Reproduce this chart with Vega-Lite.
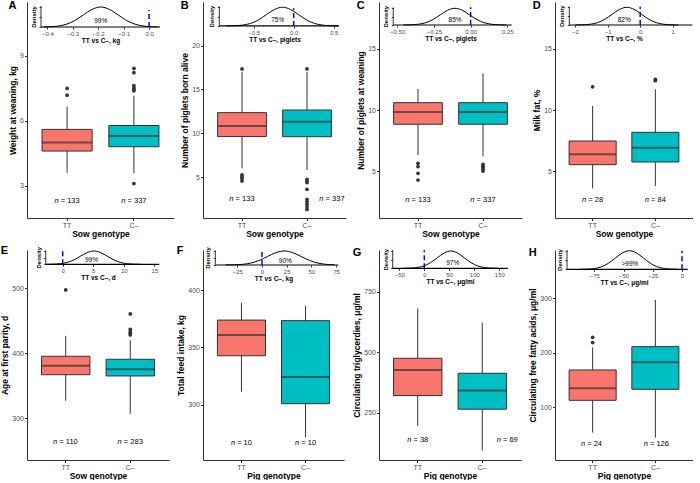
{
"$schema":"https://vega.github.io/schema/vega-lite/v6.json",
"padding":{"left":0,"top":0,"right":0,"bottom":0},
"autosize":{"type":"pad"},
"columns":4,
"align":"all",
"bounds":"flush",
"spacing":{"row":32,"column":29},
"resolve":{"scale":{"x":"independent","y":"independent"}},
"datasets":{
"box":[
{"p":"A","g":"TT","lo":3.6,"q1":4.6,"med":5.0,"q3":5.6,"hi":6.65,"nt":"= 133","ny":2.29},
{"p":"A","g":"C–","lo":3.57,"q1":4.8,"med":5.3,"q3":5.78,"hi":7.15,"nt":"= 337","ny":2.29},
{"p":"B","g":"TT","lo":6.0,"q1":9.62,"med":10.83,"q3":12.35,"hi":17.0,"nt":"= 133","ny":2.49},
{"p":"B","g":"C–","lo":5.8,"q1":9.6,"med":11.32,"q3":12.65,"hi":17.0,"nt":"= 337","ny":2.49},
{"p":"C","g":"TT","lo":6.3,"q1":8.83,"med":9.84,"q3":10.6,"hi":11.72,"nt":"= 133","ny":2.62},
{"p":"C","g":"C–","lo":6.2,"q1":8.83,"med":9.84,"q3":10.6,"hi":13.0,"nt":"= 337","ny":2.62},
{"p":"D","g":"TT","lo":3.58,"q1":5.52,"med":6.37,"q3":7.46,"hi":10.33,"nt":"= 28","ny":2.62},
{"p":"D","g":"C–","lo":3.77,"q1":5.74,"med":6.91,"q3":8.17,"hi":11.7,"nt":"= 84","ny":2.62},
{"p":"E","g":"TT","lo":327,"q1":367,"med":381,"q3":395.4,"hi":426.7,"nt":"= 110","ny":264},
{"p":"E","g":"C–","lo":307,"q1":365.1,"med":375.4,"q3":390.8,"hi":420,"nt":"= 283","ny":264},
{"p":"F","g":"TT","lo":311.3,"q1":342.7,"med":360.8,"q3":373.8,"hi":389,"nt":"= 10","ny":266.3},
{"p":"F","g":"C–","lo":271.5,"q1":300.9,"med":324.1,"q3":373.3,"hi":386.3,"nt":"= 10","ny":266.3},
{"p":"G","g":"TT","lo":195.4,"q1":320.7,"med":426.6,"q3":474.8,"hi":681,"nt":"= 38","ny":137.6},
{"p":"G","g":"C–","lo":93.6,"q1":264.3,"med":341.3,"q3":412.9,"hi":622,"nt":"= 69","ny":137.6},
{"p":"H","g":"TT","lo":53.5,"q1":112.8,"med":135,"q3":168.5,"hi":210,"nt":"= 24","ny":32.7},
{"p":"H","g":"C–","lo":44.3,"q1":133,"med":182.6,"q3":211.3,"hi":297,"nt":"= 126","ny":32.7}
],
"out":[
{"p":"A","g":"TT","v":7.18},{"p":"A","g":"TT","v":7.49},
{"p":"A","g":"C–","v":8.42},{"p":"A","g":"C–","v":8.22},{"p":"A","g":"C–","v":7.62},{"p":"A","g":"C–","v":7.52},{"p":"A","g":"C–","v":7.45},{"p":"A","g":"C–","v":7.38},{"p":"A","g":"C–","v":3.1},
{"p":"B","g":"TT","v":17.34},{"p":"B","g":"TT","v":5.23},{"p":"B","g":"TT","v":5.04},{"p":"B","g":"TT","v":4.85},{"p":"B","g":"TT","v":4.55},
{"p":"B","g":"C–","v":17.34},{"p":"B","g":"C–","v":4.74},{"p":"B","g":"C–","v":4.55},{"p":"B","g":"C–","v":4.36},{"p":"B","g":"C–","v":3.6},{"p":"B","g":"C–","v":2.45},{"p":"B","g":"C–","v":2.2},{"p":"B","g":"C–","v":1.9},{"p":"B","g":"C–","v":1.6},{"p":"B","g":"C–","v":1.3},
{"p":"C","g":"TT","v":5.63},{"p":"C","g":"TT","v":5.36},{"p":"C","g":"TT","v":4.81},{"p":"C","g":"TT","v":4.26},
{"p":"C","g":"C–","v":5.55},{"p":"C","g":"C–","v":5.4},{"p":"C","g":"C–","v":5.3},{"p":"C","g":"C–","v":5.15},{"p":"C","g":"C–","v":5.0},
{"p":"D","g":"TT","v":11.9},{"p":"D","g":"C–","v":12.5},{"p":"D","g":"C–","v":12.4},
{"p":"E","g":"TT","v":497.4},{"p":"E","g":"C–","v":460.5},{"p":"E","g":"C–","v":436.9},{"p":"E","g":"C–","v":433.3},{"p":"E","g":"C–","v":430.8},{"p":"E","g":"C–","v":428.2},
{"p":"H","g":"TT","v":228.4},{"p":"H","g":"TT","v":218.7}
],
"ins":[
{"p":"A","lo":-0.425,"hi":0.043,"lx":-0.19,"pct":"99%","vt":0.85,"z":0,"zx":0,"at":1.05,"py":0.3,"dl":0.5},
{"p":"B","lo":-0.93,"hi":0.566,"lx":-0.2,"pct":"75%","vt":0.95,"z":0,"zx":0,"at":1.05,"py":0.3,"dl":0.5},
{"p":"C","lo":-0.527,"hi":0.28,"lx":-0.106,"pct":"85%","vt":1.06,"z":0,"zx":0,"at":1.05,"py":0.3,"dl":0.5},
{"p":"D","lo":-2.175,"hi":1.6,"lx":-0.49,"pct":"82%","vt":1.03,"z":0,"zx":0,"at":1.05,"py":0.3,"dl":0.5},
{"p":"E","lo":-2.78,"hi":15.8,"lx":4.7,"pct":"99%","vt":1.07,"z":0,"zx":0,"at":1.05,"py":0.3,"dl":0.5},
{"p":"F","lo":-47.3,"hi":77.3,"lx":23.6,"pct":"90%","vt":1.07,"z":0,"zx":0,"at":1.05,"py":0.3,"dl":0.5},
{"p":"G","lo":-63.2,"hi":166.8,"lx":56.7,"pct":"97%","vt":1.05,"z":0,"zx":0,"at":1.05,"py":0.3,"dl":0.5},
{"p":"H","lo":-98.4,"hi":4.9,"lx":-44.5,"pct":">99%","vt":1.0,"z":0,"zx":0,"at":1.05,"py":0.3,"dl":0.5}
],
"dens":[
{"p":"A","x":-0.415,"d":0.002},{"p":"A","x":-0.394,"d":0.011},{"p":"A","x":-0.36,"d":0.044},{"p":"A","x":-0.326,"d":0.135},{"p":"A","x":-0.292,"d":0.325},{"p":"A","x":-0.258,"d":0.607},{"p":"A","x":-0.224,"d":0.882},{"p":"A","x":-0.19,"d":1},{"p":"A","x":-0.156,"d":0.882},{"p":"A","x":-0.122,"d":0.607},{"p":"A","x":-0.088,"d":0.325},{"p":"A","x":-0.054,"d":0.135},{"p":"A","x":-0.02,"d":0.044},{"p":"A","x":0.014,"d":0.011},{"p":"A","x":0.035,"d":0.002},
{"p":"B","x":-0.84,"d":0.002},{"p":"B","x":-0.74,"d":0.011},{"p":"B","x":-0.64,"d":0.044},{"p":"B","x":-0.54,"d":0.135},{"p":"B","x":-0.44,"d":0.325},{"p":"B","x":-0.34,"d":0.607},{"p":"B","x":-0.24,"d":0.882},{"p":"B","x":-0.14,"d":1},{"p":"B","x":-0.04,"d":0.882},{"p":"B","x":0.06,"d":0.607},{"p":"B","x":0.16,"d":0.325},{"p":"B","x":0.26,"d":0.135},{"p":"B","x":0.36,"d":0.044},{"p":"B","x":0.46,"d":0.011},{"p":"B","x":0.56,"d":0.002},
{"p":"C","x":-0.457,"d":0.002},{"p":"C","x":-0.407,"d":0.011},{"p":"C","x":-0.357,"d":0.044},{"p":"C","x":-0.307,"d":0.135},{"p":"C","x":-0.257,"d":0.325},{"p":"C","x":-0.207,"d":0.607},{"p":"C","x":-0.157,"d":0.882},{"p":"C","x":-0.107,"d":1},{"p":"C","x":-0.057,"d":0.882},{"p":"C","x":-0.007,"d":0.607},{"p":"C","x":0.043,"d":0.325},{"p":"C","x":0.093,"d":0.135},{"p":"C","x":0.143,"d":0.044},{"p":"C","x":0.193,"d":0.011},{"p":"C","x":0.243,"d":0.002},
{"p":"D","x":-1.985,"d":0.002},{"p":"D","x":-1.76,"d":0.011},{"p":"D","x":-1.535,"d":0.044},{"p":"D","x":-1.31,"d":0.135},{"p":"D","x":-1.085,"d":0.325},{"p":"D","x":-0.86,"d":0.607},{"p":"D","x":-0.635,"d":0.882},{"p":"D","x":-0.41,"d":1},{"p":"D","x":-0.185,"d":0.882},{"p":"D","x":0.04,"d":0.607},{"p":"D","x":0.265,"d":0.325},{"p":"D","x":0.49,"d":0.135},{"p":"D","x":0.715,"d":0.044},{"p":"D","x":0.94,"d":0.011},{"p":"D","x":1.165,"d":0.002},
{"p":"E","x":-2.6,"d":0.002},{"p":"E","x":-1.5,"d":0.011},{"p":"E","x":-0.4,"d":0.044},{"p":"E","x":0.7,"d":0.135},{"p":"E","x":1.8,"d":0.325},{"p":"E","x":2.9,"d":0.607},{"p":"E","x":4.0,"d":0.882},{"p":"E","x":5.1,"d":1},{"p":"E","x":6.2,"d":0.882},{"p":"E","x":7.3,"d":0.607},{"p":"E","x":8.4,"d":0.325},{"p":"E","x":9.5,"d":0.135},{"p":"E","x":10.6,"d":0.044},{"p":"E","x":11.7,"d":0.011},{"p":"E","x":12.8,"d":0.002},
{"p":"F","x":-36.9,"d":0.002},{"p":"F","x":-28.4,"d":0.011},{"p":"F","x":-19.9,"d":0.044},{"p":"F","x":-11.4,"d":0.135},{"p":"F","x":-2.9,"d":0.325},{"p":"F","x":5.6,"d":0.607},{"p":"F","x":14.1,"d":0.882},{"p":"F","x":22.6,"d":1},{"p":"F","x":31.1,"d":0.882},{"p":"F","x":39.6,"d":0.607},{"p":"F","x":48.1,"d":0.325},{"p":"F","x":56.6,"d":0.135},{"p":"F","x":65.1,"d":0.044},{"p":"F","x":73.6,"d":0.011},
{"p":"G","x":-41.5,"d":0.002},{"p":"G","x":-28,"d":0.011},{"p":"G","x":-14.5,"d":0.044},{"p":"G","x":-1,"d":0.135},{"p":"G","x":12.5,"d":0.325},{"p":"G","x":26,"d":0.607},{"p":"G","x":39.5,"d":0.882},{"p":"G","x":53,"d":1},{"p":"G","x":66.5,"d":0.882},{"p":"G","x":80,"d":0.607},{"p":"G","x":93.5,"d":0.325},{"p":"G","x":107,"d":0.135},{"p":"G","x":120.5,"d":0.044},{"p":"G","x":134,"d":0.011},{"p":"G","x":147.5,"d":0.002},
{"p":"H","x":-87,"d":0.002},{"p":"H","x":-81,"d":0.011},{"p":"H","x":-75,"d":0.044},{"p":"H","x":-69,"d":0.135},{"p":"H","x":-63,"d":0.325},{"p":"H","x":-57,"d":0.607},{"p":"H","x":-51,"d":0.882},{"p":"H","x":-45,"d":1},{"p":"H","x":-39,"d":0.882},{"p":"H","x":-33,"d":0.607},{"p":"H","x":-27,"d":0.325},{"p":"H","x":-21,"d":0.135},{"p":"H","x":-15,"d":0.044},{"p":"H","x":-9,"d":0.011},{"p":"H","x":-3,"d":0.002}
]
},
"concat":[
{"width":147,"height":216,"title":{"text":"A"},"resolve":{"scale":{"x":"independent","y":"independent"}},
"layer":[
{"data":{"name":"box"},"transform":[{"filter":"datum.p=='A'"}],"mark":{"type":"rule","color":"#333333","strokeWidth":1},"encoding":{"x":{"field":"g","type":"nominal","scale":{"type":"band","domain":["TT","C–"],"paddingInner":0.25,"paddingOuter":0.225},"axis":{"title":"Sow genotype","orient":"bottom"}},"y":{"field":"lo","type":"quantitative","scale":{"domain":[1.51,11.48],"nice":false,"zero":false},"axis":{"title":"Weight at weaning, kg","values":[3,6,9],"orient":"left"}},"y2":{"field":"hi"}}},
{"data":{"name":"box"},"transform":[{"filter":"datum.p=='A'"}],"mark":{"type":"bar","stroke":"#333333","strokeWidth":1},"encoding":{"x":{"field":"g","type":"nominal","scale":{"type":"band","domain":["TT","C–"],"paddingInner":0.25,"paddingOuter":0.225},"axis":null},"y":{"field":"q1","type":"quantitative","scale":{"domain":[1.51,11.48],"nice":false,"zero":false},"axis":null},"y2":{"field":"q3"},"color":{"field":"g","type":"nominal","scale":{"domain":["TT","C–"],"range":["#F8766D","#00BFC4"]},"legend":null}}},
{"data":{"name":"box"},"transform":[{"filter":"datum.p=='A'"}],"mark":{"type":"tick","color":"#333333","thickness":2},"encoding":{"x":{"field":"g","type":"nominal","scale":{"type":"band","domain":["TT","C–"],"paddingInner":0.25,"paddingOuter":0.225},"axis":null},"y":{"field":"med","type":"quantitative","scale":{"domain":[1.51,11.48],"nice":false,"zero":false},"axis":null}}},
{"data":{"name":"box"},"transform":[{"filter":"datum.p=='A'"}],"mark":{"type":"text","text":"n","fontStyle":"italic","align":"right","dx":-8.5,"fontSize":7.5},"encoding":{"x":{"field":"g","type":"nominal","scale":{"type":"band","domain":["TT","C–"],"paddingInner":0.25,"paddingOuter":0.225},"axis":null},"y":{"field":"ny","type":"quantitative","scale":{"domain":[1.51,11.48],"nice":false,"zero":false},"axis":null}}},
{"data":{"name":"box"},"transform":[{"filter":"datum.p=='A'"}],"mark":{"type":"text","align":"left","dx":-6.4,"fontSize":7.5},"encoding":{"x":{"field":"g","type":"nominal","scale":{"type":"band","domain":["TT","C–"],"paddingInner":0.25,"paddingOuter":0.225},"axis":null},"y":{"field":"ny","type":"quantitative","scale":{"domain":[1.51,11.48],"nice":false,"zero":false},"axis":null},"text":{"field":"nt","type":"nominal"}}},
{"data":{"name":"out"},"transform":[{"filter":"datum.p=='A'"}],"mark":{"type":"circle","size":14,"color":"#333333","opacity":1},"encoding":{"x":{"field":"g","type":"nominal","scale":{"type":"band","domain":["TT","C–"],"paddingInner":0.25,"paddingOuter":0.225},"axis":null},"y":{"field":"v","type":"quantitative","scale":{"domain":[1.51,11.48],"nice":false,"zero":false},"axis":null}}},
{"data":{"name":"dens"},"transform":[{"filter":"datum.p=='A'"}],"mark":{"type":"line","color":"#000000","strokeWidth":1,"interpolate":"monotone"},"encoding":{"x":{"field":"x","type":"quantitative","scale":{"domain":[-0.48,0.098],"nice":false,"zero":false},"axis":{"orient":"bottom","offset":-191,"values":[-0.4,-0.3,-0.2,-0.1,0],"format":".1f","title":"TT vs C–, kg","domain":false,"labelFontSize":6,"titleFontSize":6.5,"tickSize":2,"labelPadding":1,"titlePadding":1}},"y":{"field":"d","type":"quantitative","scale":{"domain":[-9.55,1.25],"nice":false,"zero":false},"axis":{"orient":"left","offset":-14,"values":[0,0.5,1],"labels":false,"domain":false,"title":null,"tickSize":2}}}},
{"data":{"name":"ins"},"transform":[{"filter":"datum.p=='A'"}],"mark":{"type":"rule","color":"#000000","strokeWidth":1.2},"encoding":{"x":{"field":"lo","type":"quantitative","scale":{"domain":[-0.48,0.098],"nice":false,"zero":false},"axis":null},"x2":{"field":"hi"},"y":{"field":"z","type":"quantitative","scale":{"domain":[-9.55,1.25],"nice":false,"zero":false},"axis":null}}},
{"data":{"name":"ins"},"transform":[{"filter":"datum.p=='A'"}],"mark":{"type":"rule","color":"#333333","strokeWidth":1},"encoding":{"x":{"field":"lo","type":"quantitative","scale":{"domain":[-0.48,0.098],"nice":false,"zero":false},"axis":null},"y":{"field":"z","type":"quantitative","scale":{"domain":[-9.55,1.25],"nice":false,"zero":false},"axis":null},"y2":{"field":"at"}}},
{"data":{"name":"ins"},"transform":[{"filter":"datum.p=='A'"}],"mark":{"type":"rule","color":"#0000FF","strokeWidth":1.5,"strokeDash":[5,3]},"encoding":{"x":{"field":"zx","type":"quantitative","scale":{"domain":[-0.48,0.098],"nice":false,"zero":false},"axis":null},"y":{"field":"z","type":"quantitative","scale":{"domain":[-9.55,1.25],"nice":false,"zero":false},"axis":null},"y2":{"field":"vt"}}},
{"data":{"name":"ins"},"transform":[{"filter":"datum.p=='A'"}],"mark":{"type":"text","fontSize":6.5,"baseline":"middle"},"encoding":{"x":{"field":"lx","type":"quantitative","scale":{"domain":[-0.48,0.098],"nice":false,"zero":false},"axis":null},"y":{"field":"py","type":"quantitative","scale":{"domain":[-9.55,1.25],"nice":false,"zero":false},"axis":null},"text":{"field":"pct","type":"nominal"}}},
{"data":{"name":"ins"},"transform":[{"filter":"datum.p=='A'"}],"mark":{"type":"text","text":"Density","angle":270,"baseline":"bottom","dy":-4,"fontSize":6,"fontWeight":"bold"},"encoding":{"x":{"field":"lo","type":"quantitative","scale":{"domain":[-0.48,0.098],"nice":false,"zero":false},"axis":null},"y":{"field":"dl","type":"quantitative","scale":{"domain":[-9.55,1.25],"nice":false,"zero":false},"axis":null}}}
]},
{"width":143,"height":216,"title":{"text":"B"},"resolve":{"scale":{"x":"independent","y":"independent"}},
"layer":[
{"data":{"name":"box"},"transform":[{"filter":"datum.p=='B'"}],"mark":{"type":"rule","color":"#333333","strokeWidth":1},"encoding":{"x":{"field":"g","type":"nominal","scale":{"type":"band","domain":["TT","C–"],"paddingInner":0.25,"paddingOuter":0.225},"axis":{"title":"Sow genotype","orient":"bottom"}},"y":{"field":"lo","type":"quantitative","scale":{"domain":[0.32,24.98],"nice":false,"zero":false},"axis":{"title":"Number of piglets born alive","values":[5,10,15,20],"orient":"left"}},"y2":{"field":"hi"}}},
{"data":{"name":"box"},"transform":[{"filter":"datum.p=='B'"}],"mark":{"type":"bar","stroke":"#333333","strokeWidth":1},"encoding":{"x":{"field":"g","type":"nominal","scale":{"type":"band","domain":["TT","C–"],"paddingInner":0.25,"paddingOuter":0.225},"axis":null},"y":{"field":"q1","type":"quantitative","scale":{"domain":[0.32,24.98],"nice":false,"zero":false},"axis":null},"y2":{"field":"q3"},"color":{"field":"g","type":"nominal","scale":{"domain":["TT","C–"],"range":["#F8766D","#00BFC4"]},"legend":null}}},
{"data":{"name":"box"},"transform":[{"filter":"datum.p=='B'"}],"mark":{"type":"tick","color":"#333333","thickness":2},"encoding":{"x":{"field":"g","type":"nominal","scale":{"type":"band","domain":["TT","C–"],"paddingInner":0.25,"paddingOuter":0.225},"axis":null},"y":{"field":"med","type":"quantitative","scale":{"domain":[0.32,24.98],"nice":false,"zero":false},"axis":null}}},
{"data":{"name":"box"},"transform":[{"filter":"datum.p=='B' && datum.g=='TT'"}],"mark":{"type":"text","text":"n","fontStyle":"italic","align":"right","dx":-8.5,"fontSize":7.5},"encoding":{"x":{"field":"g","type":"nominal","scale":{"type":"band","domain":["TT","C–"],"paddingInner":0.25,"paddingOuter":0.225},"axis":null},"y":{"field":"ny","type":"quantitative","scale":{"domain":[0.32,24.98],"nice":false,"zero":false},"axis":null}}},
{"data":{"name":"box"},"transform":[{"filter":"datum.p=='B' && datum.g=='TT'"}],"mark":{"type":"text","align":"left","dx":-6.4,"fontSize":7.5},"encoding":{"x":{"field":"g","type":"nominal","scale":{"type":"band","domain":["TT","C–"],"paddingInner":0.25,"paddingOuter":0.225},"axis":null},"y":{"field":"ny","type":"quantitative","scale":{"domain":[0.32,24.98],"nice":false,"zero":false},"axis":null},"text":{"field":"nt","type":"nominal"}}},
{"data":{"name":"box"},"transform":[{"filter":"datum.p=='B' && datum.g!='TT'"}],"mark":{"type":"text","text":"n","fontStyle":"italic","align":"right","dx":16.5,"fontSize":7.5},"encoding":{"x":{"field":"g","type":"nominal","scale":{"type":"band","domain":["TT","C–"],"paddingInner":0.25,"paddingOuter":0.225},"axis":null},"y":{"field":"ny","type":"quantitative","scale":{"domain":[0.32,24.98],"nice":false,"zero":false},"axis":null}}},
{"data":{"name":"box"},"transform":[{"filter":"datum.p=='B' && datum.g!='TT'"}],"mark":{"type":"text","align":"left","dx":18.6,"fontSize":7.5},"encoding":{"x":{"field":"g","type":"nominal","scale":{"type":"band","domain":["TT","C–"],"paddingInner":0.25,"paddingOuter":0.225},"axis":null},"y":{"field":"ny","type":"quantitative","scale":{"domain":[0.32,24.98],"nice":false,"zero":false},"axis":null},"text":{"field":"nt","type":"nominal"}}},
{"data":{"name":"out"},"transform":[{"filter":"datum.p=='B'"}],"mark":{"type":"circle","size":14,"color":"#333333","opacity":1},"encoding":{"x":{"field":"g","type":"nominal","scale":{"type":"band","domain":["TT","C–"],"paddingInner":0.25,"paddingOuter":0.225},"axis":null},"y":{"field":"v","type":"quantitative","scale":{"domain":[0.32,24.98],"nice":false,"zero":false},"axis":null}}},
{"data":{"name":"dens"},"transform":[{"filter":"datum.p=='B'"}],"mark":{"type":"line","color":"#000000","strokeWidth":1,"interpolate":"monotone"},"encoding":{"x":{"field":"x","type":"quantitative","scale":{"domain":[-1.134,0.654],"nice":false,"zero":false},"axis":{"orient":"bottom","offset":-192,"values":[-0.5,0,0.5],"format":".1f","title":"TT vs C–, piglets","domain":false,"labelFontSize":6,"titleFontSize":6.5,"tickSize":2,"labelPadding":1,"titlePadding":1}},"y":{"field":"d","type":"quantitative","scale":{"domain":[-10.27,1.28],"nice":false,"zero":false},"axis":{"orient":"left","offset":-16.3,"values":[0,0.5,1],"labels":false,"domain":false,"title":null,"tickSize":2}}}},
{"data":{"name":"ins"},"transform":[{"filter":"datum.p=='B'"}],"mark":{"type":"rule","color":"#000000","strokeWidth":1.2},"encoding":{"x":{"field":"lo","type":"quantitative","scale":{"domain":[-1.134,0.654],"nice":false,"zero":false},"axis":null},"x2":{"field":"hi"},"y":{"field":"z","type":"quantitative","scale":{"domain":[-10.27,1.28],"nice":false,"zero":false},"axis":null}}},
{"data":{"name":"ins"},"transform":[{"filter":"datum.p=='B'"}],"mark":{"type":"rule","color":"#333333","strokeWidth":1},"encoding":{"x":{"field":"lo","type":"quantitative","scale":{"domain":[-1.134,0.654],"nice":false,"zero":false},"axis":null},"y":{"field":"z","type":"quantitative","scale":{"domain":[-10.27,1.28],"nice":false,"zero":false},"axis":null},"y2":{"field":"at"}}},
{"data":{"name":"ins"},"transform":[{"filter":"datum.p=='B'"}],"mark":{"type":"rule","color":"#0000FF","strokeWidth":1.5,"strokeDash":[5,3]},"encoding":{"x":{"field":"zx","type":"quantitative","scale":{"domain":[-1.134,0.654],"nice":false,"zero":false},"axis":null},"y":{"field":"z","type":"quantitative","scale":{"domain":[-10.27,1.28],"nice":false,"zero":false},"axis":null},"y2":{"field":"vt"}}},
{"data":{"name":"ins"},"transform":[{"filter":"datum.p=='B'"}],"mark":{"type":"text","fontSize":6.5,"baseline":"middle"},"encoding":{"x":{"field":"lx","type":"quantitative","scale":{"domain":[-1.134,0.654],"nice":false,"zero":false},"axis":null},"y":{"field":"py","type":"quantitative","scale":{"domain":[-10.27,1.28],"nice":false,"zero":false},"axis":null},"text":{"field":"pct","type":"nominal"}}},
{"data":{"name":"ins"},"transform":[{"filter":"datum.p=='B'"}],"mark":{"type":"text","text":"Density","angle":270,"baseline":"bottom","dy":-4,"fontSize":6,"fontWeight":"bold"},"encoding":{"x":{"field":"lo","type":"quantitative","scale":{"domain":[-1.134,0.654],"nice":false,"zero":false},"axis":null},"y":{"field":"dl","type":"quantitative","scale":{"domain":[-10.27,1.28],"nice":false,"zero":false},"axis":null}}}
]},
{"width":143,"height":216,"title":{"text":"C"},"resolve":{"scale":{"x":"independent","y":"independent"}},
"layer":[
{"data":{"name":"box"},"transform":[{"filter":"datum.p=='C'"}],"mark":{"type":"rule","color":"#333333","strokeWidth":1},"encoding":{"x":{"field":"g","type":"nominal","scale":{"type":"band","domain":["TT","C–"],"paddingInner":0.25,"paddingOuter":0.225},"axis":{"title":"Sow genotype","orient":"bottom"}},"y":{"field":"lo","type":"quantitative","scale":{"domain":[1.15,18.85],"nice":false,"zero":false},"axis":{"title":"Number of piglets at weaning","values":[5,10,15],"orient":"left"}},"y2":{"field":"hi"}}},
{"data":{"name":"box"},"transform":[{"filter":"datum.p=='C'"}],"mark":{"type":"bar","stroke":"#333333","strokeWidth":1},"encoding":{"x":{"field":"g","type":"nominal","scale":{"type":"band","domain":["TT","C–"],"paddingInner":0.25,"paddingOuter":0.225},"axis":null},"y":{"field":"q1","type":"quantitative","scale":{"domain":[1.15,18.85],"nice":false,"zero":false},"axis":null},"y2":{"field":"q3"},"color":{"field":"g","type":"nominal","scale":{"domain":["TT","C–"],"range":["#F8766D","#00BFC4"]},"legend":null}}},
{"data":{"name":"box"},"transform":[{"filter":"datum.p=='C'"}],"mark":{"type":"tick","color":"#333333","thickness":2},"encoding":{"x":{"field":"g","type":"nominal","scale":{"type":"band","domain":["TT","C–"],"paddingInner":0.25,"paddingOuter":0.225},"axis":null},"y":{"field":"med","type":"quantitative","scale":{"domain":[1.15,18.85],"nice":false,"zero":false},"axis":null}}},
{"data":{"name":"box"},"transform":[{"filter":"datum.p=='C'"}],"mark":{"type":"text","text":"n","fontStyle":"italic","align":"right","dx":-8.5,"fontSize":7.5},"encoding":{"x":{"field":"g","type":"nominal","scale":{"type":"band","domain":["TT","C–"],"paddingInner":0.25,"paddingOuter":0.225},"axis":null},"y":{"field":"ny","type":"quantitative","scale":{"domain":[1.15,18.85],"nice":false,"zero":false},"axis":null}}},
{"data":{"name":"box"},"transform":[{"filter":"datum.p=='C'"}],"mark":{"type":"text","align":"left","dx":-6.4,"fontSize":7.5},"encoding":{"x":{"field":"g","type":"nominal","scale":{"type":"band","domain":["TT","C–"],"paddingInner":0.25,"paddingOuter":0.225},"axis":null},"y":{"field":"ny","type":"quantitative","scale":{"domain":[1.15,18.85],"nice":false,"zero":false},"axis":null},"text":{"field":"nt","type":"nominal"}}},
{"data":{"name":"out"},"transform":[{"filter":"datum.p=='C'"}],"mark":{"type":"circle","size":14,"color":"#333333","opacity":1},"encoding":{"x":{"field":"g","type":"nominal","scale":{"type":"band","domain":["TT","C–"],"paddingInner":0.25,"paddingOuter":0.225},"axis":null},"y":{"field":"v","type":"quantitative","scale":{"domain":[1.15,18.85],"nice":false,"zero":false},"axis":null}}},
{"data":{"name":"dens"},"transform":[{"filter":"datum.p=='C'"}],"mark":{"type":"line","color":"#000000","strokeWidth":1,"interpolate":"monotone"},"encoding":{"x":{"field":"x","type":"quantitative","scale":{"domain":[-0.624,0.35],"nice":false,"zero":false},"axis":{"orient":"bottom","offset":-193,"values":[-0.5,-0.25,0,0.25],"format":".2f","title":"TT vs C–, piglets","domain":false,"labelFontSize":6,"titleFontSize":6.5,"tickSize":2,"labelPadding":1,"titlePadding":1}},"y":{"field":"d","type":"quantitative","scale":{"domain":[-11.56,1.377],"nice":false,"zero":false},"axis":{"orient":"left","offset":-14.3,"values":[0,0.5,1],"labels":false,"domain":false,"title":null,"tickSize":2}}}},
{"data":{"name":"ins"},"transform":[{"filter":"datum.p=='C'"}],"mark":{"type":"rule","color":"#000000","strokeWidth":1.2},"encoding":{"x":{"field":"lo","type":"quantitative","scale":{"domain":[-0.624,0.35],"nice":false,"zero":false},"axis":null},"x2":{"field":"hi"},"y":{"field":"z","type":"quantitative","scale":{"domain":[-11.56,1.377],"nice":false,"zero":false},"axis":null}}},
{"data":{"name":"ins"},"transform":[{"filter":"datum.p=='C'"}],"mark":{"type":"rule","color":"#333333","strokeWidth":1},"encoding":{"x":{"field":"lo","type":"quantitative","scale":{"domain":[-0.624,0.35],"nice":false,"zero":false},"axis":null},"y":{"field":"z","type":"quantitative","scale":{"domain":[-11.56,1.377],"nice":false,"zero":false},"axis":null},"y2":{"field":"at"}}},
{"data":{"name":"ins"},"transform":[{"filter":"datum.p=='C'"}],"mark":{"type":"rule","color":"#0000FF","strokeWidth":1.5,"strokeDash":[5,3]},"encoding":{"x":{"field":"zx","type":"quantitative","scale":{"domain":[-0.624,0.35],"nice":false,"zero":false},"axis":null},"y":{"field":"z","type":"quantitative","scale":{"domain":[-11.56,1.377],"nice":false,"zero":false},"axis":null},"y2":{"field":"vt"}}},
{"data":{"name":"ins"},"transform":[{"filter":"datum.p=='C'"}],"mark":{"type":"text","fontSize":6.5,"baseline":"middle"},"encoding":{"x":{"field":"lx","type":"quantitative","scale":{"domain":[-0.624,0.35],"nice":false,"zero":false},"axis":null},"y":{"field":"py","type":"quantitative","scale":{"domain":[-11.56,1.377],"nice":false,"zero":false},"axis":null},"text":{"field":"pct","type":"nominal"}}},
{"data":{"name":"ins"},"transform":[{"filter":"datum.p=='C'"}],"mark":{"type":"text","text":"Density","angle":270,"baseline":"bottom","dy":-4,"fontSize":6,"fontWeight":"bold"},"encoding":{"x":{"field":"lo","type":"quantitative","scale":{"domain":[-0.624,0.35],"nice":false,"zero":false},"axis":null},"y":{"field":"dl","type":"quantitative","scale":{"domain":[-11.56,1.377],"nice":false,"zero":false},"axis":null}}}
]},
{"width":138,"height":216,"title":{"text":"D"},"resolve":{"scale":{"x":"independent","y":"independent"}},
"layer":[
{"data":{"name":"box"},"transform":[{"filter":"datum.p=='D'"}],"mark":{"type":"rule","color":"#333333","strokeWidth":1},"encoding":{"x":{"field":"g","type":"nominal","scale":{"type":"band","domain":["TT","C–"],"paddingInner":0.25,"paddingOuter":0.225},"axis":{"title":"Sow genotype","orient":"bottom"}},"y":{"field":"lo","type":"quantitative","scale":{"domain":[1.15,18.85],"nice":false,"zero":false},"axis":{"title":"Milk fat, %","values":[5,10,15],"orient":"left"}},"y2":{"field":"hi"}}},
{"data":{"name":"box"},"transform":[{"filter":"datum.p=='D'"}],"mark":{"type":"bar","stroke":"#333333","strokeWidth":1},"encoding":{"x":{"field":"g","type":"nominal","scale":{"type":"band","domain":["TT","C–"],"paddingInner":0.25,"paddingOuter":0.225},"axis":null},"y":{"field":"q1","type":"quantitative","scale":{"domain":[1.15,18.85],"nice":false,"zero":false},"axis":null},"y2":{"field":"q3"},"color":{"field":"g","type":"nominal","scale":{"domain":["TT","C–"],"range":["#F8766D","#00BFC4"]},"legend":null}}},
{"data":{"name":"box"},"transform":[{"filter":"datum.p=='D'"}],"mark":{"type":"tick","color":"#333333","thickness":2},"encoding":{"x":{"field":"g","type":"nominal","scale":{"type":"band","domain":["TT","C–"],"paddingInner":0.25,"paddingOuter":0.225},"axis":null},"y":{"field":"med","type":"quantitative","scale":{"domain":[1.15,18.85],"nice":false,"zero":false},"axis":null}}},
{"data":{"name":"box"},"transform":[{"filter":"datum.p=='D'"}],"mark":{"type":"text","text":"n","fontStyle":"italic","align":"right","dx":-6.4,"fontSize":7.5},"encoding":{"x":{"field":"g","type":"nominal","scale":{"type":"band","domain":["TT","C–"],"paddingInner":0.25,"paddingOuter":0.225},"axis":null},"y":{"field":"ny","type":"quantitative","scale":{"domain":[1.15,18.85],"nice":false,"zero":false},"axis":null}}},
{"data":{"name":"box"},"transform":[{"filter":"datum.p=='D'"}],"mark":{"type":"text","align":"left","dx":-4.3,"fontSize":7.5},"encoding":{"x":{"field":"g","type":"nominal","scale":{"type":"band","domain":["TT","C–"],"paddingInner":0.25,"paddingOuter":0.225},"axis":null},"y":{"field":"ny","type":"quantitative","scale":{"domain":[1.15,18.85],"nice":false,"zero":false},"axis":null},"text":{"field":"nt","type":"nominal"}}},
{"data":{"name":"out"},"transform":[{"filter":"datum.p=='D'"}],"mark":{"type":"circle","size":14,"color":"#333333","opacity":1},"encoding":{"x":{"field":"g","type":"nominal","scale":{"type":"band","domain":["TT","C–"],"paddingInner":0.25,"paddingOuter":0.225},"axis":null},"y":{"field":"v","type":"quantitative","scale":{"domain":[1.15,18.85],"nice":false,"zero":false},"axis":null}}},
{"data":{"name":"dens"},"transform":[{"filter":"datum.p=='D'"}],"mark":{"type":"line","color":"#000000","strokeWidth":1,"interpolate":"monotone"},"encoding":{"x":{"field":"x","type":"quantitative","scale":{"domain":[-2.614,1.62],"nice":false,"zero":false},"axis":{"orient":"bottom","offset":-193,"values":[-2,-1,0,1],"format":"d","title":"TT vs C–, %","domain":false,"labelFontSize":6,"titleFontSize":6.5,"tickSize":2,"labelPadding":1,"titlePadding":1}},"y":{"field":"d","type":"quantitative","scale":{"domain":[-10.9,1.3],"nice":false,"zero":false},"axis":{"orient":"left","offset":-14.3,"values":[0,0.5,1],"labels":false,"domain":false,"title":null,"tickSize":2}}}},
{"data":{"name":"ins"},"transform":[{"filter":"datum.p=='D'"}],"mark":{"type":"rule","color":"#000000","strokeWidth":1.2},"encoding":{"x":{"field":"lo","type":"quantitative","scale":{"domain":[-2.614,1.62],"nice":false,"zero":false},"axis":null},"x2":{"field":"hi"},"y":{"field":"z","type":"quantitative","scale":{"domain":[-10.9,1.3],"nice":false,"zero":false},"axis":null}}},
{"data":{"name":"ins"},"transform":[{"filter":"datum.p=='D'"}],"mark":{"type":"rule","color":"#333333","strokeWidth":1},"encoding":{"x":{"field":"lo","type":"quantitative","scale":{"domain":[-2.614,1.62],"nice":false,"zero":false},"axis":null},"y":{"field":"z","type":"quantitative","scale":{"domain":[-10.9,1.3],"nice":false,"zero":false},"axis":null},"y2":{"field":"at"}}},
{"data":{"name":"ins"},"transform":[{"filter":"datum.p=='D'"}],"mark":{"type":"rule","color":"#0000FF","strokeWidth":1.5,"strokeDash":[5,3]},"encoding":{"x":{"field":"zx","type":"quantitative","scale":{"domain":[-2.614,1.62],"nice":false,"zero":false},"axis":null},"y":{"field":"z","type":"quantitative","scale":{"domain":[-10.9,1.3],"nice":false,"zero":false},"axis":null},"y2":{"field":"vt"}}},
{"data":{"name":"ins"},"transform":[{"filter":"datum.p=='D'"}],"mark":{"type":"text","fontSize":6.5,"baseline":"middle"},"encoding":{"x":{"field":"lx","type":"quantitative","scale":{"domain":[-2.614,1.62],"nice":false,"zero":false},"axis":null},"y":{"field":"py","type":"quantitative","scale":{"domain":[-10.9,1.3],"nice":false,"zero":false},"axis":null},"text":{"field":"pct","type":"nominal"}}},
{"data":{"name":"ins"},"transform":[{"filter":"datum.p=='D'"}],"mark":{"type":"text","text":"Density","angle":270,"baseline":"bottom","dy":-4,"fontSize":6,"fontWeight":"bold"},"encoding":{"x":{"field":"lo","type":"quantitative","scale":{"domain":[-2.614,1.62],"nice":false,"zero":false},"axis":null},"y":{"field":"dl","type":"quantitative","scale":{"domain":[-10.9,1.3],"nice":false,"zero":false},"axis":null}}}
]},
{"width":142,"height":210,"title":{"text":"E"},"resolve":{"scale":{"x":"independent","y":"independent"}},
"layer":[
{"data":{"name":"box"},"transform":[{"filter":"datum.p=='E'"}],"mark":{"type":"rule","color":"#333333","strokeWidth":1},"encoding":{"x":{"field":"g","type":"nominal","scale":{"type":"band","domain":["TT","C–"],"paddingInner":0.25,"paddingOuter":0.225},"axis":{"title":"Sow genotype","orient":"bottom"}},"y":{"field":"lo","type":"quantitative","scale":{"domain":[235.8,558.9],"nice":false,"zero":false},"axis":{"title":"Age at first parity, d","values":[300,400,500],"orient":"left"}},"y2":{"field":"hi"}}},
{"data":{"name":"box"},"transform":[{"filter":"datum.p=='E'"}],"mark":{"type":"bar","stroke":"#333333","strokeWidth":1},"encoding":{"x":{"field":"g","type":"nominal","scale":{"type":"band","domain":["TT","C–"],"paddingInner":0.25,"paddingOuter":0.225},"axis":null},"y":{"field":"q1","type":"quantitative","scale":{"domain":[235.8,558.9],"nice":false,"zero":false},"axis":null},"y2":{"field":"q3"},"color":{"field":"g","type":"nominal","scale":{"domain":["TT","C–"],"range":["#F8766D","#00BFC4"]},"legend":null}}},
{"data":{"name":"box"},"transform":[{"filter":"datum.p=='E'"}],"mark":{"type":"tick","color":"#333333","thickness":2},"encoding":{"x":{"field":"g","type":"nominal","scale":{"type":"band","domain":["TT","C–"],"paddingInner":0.25,"paddingOuter":0.225},"axis":null},"y":{"field":"med","type":"quantitative","scale":{"domain":[235.8,558.9],"nice":false,"zero":false},"axis":null}}},
{"data":{"name":"box"},"transform":[{"filter":"datum.p=='E'"}],"mark":{"type":"text","text":"n","fontStyle":"italic","align":"right","dx":-8.5,"fontSize":7.5},"encoding":{"x":{"field":"g","type":"nominal","scale":{"type":"band","domain":["TT","C–"],"paddingInner":0.25,"paddingOuter":0.225},"axis":null},"y":{"field":"ny","type":"quantitative","scale":{"domain":[235.8,558.9],"nice":false,"zero":false},"axis":null}}},
{"data":{"name":"box"},"transform":[{"filter":"datum.p=='E'"}],"mark":{"type":"text","align":"left","dx":-6.4,"fontSize":7.5},"encoding":{"x":{"field":"g","type":"nominal","scale":{"type":"band","domain":["TT","C–"],"paddingInner":0.25,"paddingOuter":0.225},"axis":null},"y":{"field":"ny","type":"quantitative","scale":{"domain":[235.8,558.9],"nice":false,"zero":false},"axis":null},"text":{"field":"nt","type":"nominal"}}},
{"data":{"name":"out"},"transform":[{"filter":"datum.p=='E'"}],"mark":{"type":"circle","size":14,"color":"#333333","opacity":1},"encoding":{"x":{"field":"g","type":"nominal","scale":{"type":"band","domain":["TT","C–"],"paddingInner":0.25,"paddingOuter":0.225},"axis":null},"y":{"field":"v","type":"quantitative","scale":{"domain":[235.8,558.9],"nice":false,"zero":false},"axis":null}}},
{"data":{"name":"dens"},"transform":[{"filter":"datum.p=='E'"}],"mark":{"type":"line","color":"#000000","strokeWidth":1,"interpolate":"monotone"},"encoding":{"x":{"field":"x","type":"quantitative","scale":{"domain":[-5.84,17.39],"nice":false,"zero":false},"axis":{"orient":"bottom","offset":-195.7,"values":[0,5,10,15],"format":"d","title":"TT vs C–, d","domain":false,"labelFontSize":6,"titleFontSize":6.5,"tickSize":2,"labelPadding":1,"titlePadding":1}},"y":{"field":"d","type":"quantitative","scale":{"domain":[-14.7,1.075],"nice":false,"zero":false},"axis":{"orient":"left","offset":-18.7,"values":[0,0.5,1],"labels":false,"domain":false,"title":null,"tickSize":2}}}},
{"data":{"name":"ins"},"transform":[{"filter":"datum.p=='E'"}],"mark":{"type":"rule","color":"#000000","strokeWidth":1.2},"encoding":{"x":{"field":"lo","type":"quantitative","scale":{"domain":[-5.84,17.39],"nice":false,"zero":false},"axis":null},"x2":{"field":"hi"},"y":{"field":"z","type":"quantitative","scale":{"domain":[-14.7,1.075],"nice":false,"zero":false},"axis":null}}},
{"data":{"name":"ins"},"transform":[{"filter":"datum.p=='E'"}],"mark":{"type":"rule","color":"#333333","strokeWidth":1},"encoding":{"x":{"field":"lo","type":"quantitative","scale":{"domain":[-5.84,17.39],"nice":false,"zero":false},"axis":null},"y":{"field":"z","type":"quantitative","scale":{"domain":[-14.7,1.075],"nice":false,"zero":false},"axis":null},"y2":{"field":"at"}}},
{"data":{"name":"ins"},"transform":[{"filter":"datum.p=='E'"}],"mark":{"type":"rule","color":"#0000FF","strokeWidth":1.5,"strokeDash":[5,3]},"encoding":{"x":{"field":"zx","type":"quantitative","scale":{"domain":[-5.84,17.39],"nice":false,"zero":false},"axis":null},"y":{"field":"z","type":"quantitative","scale":{"domain":[-14.7,1.075],"nice":false,"zero":false},"axis":null},"y2":{"field":"vt"}}},
{"data":{"name":"ins"},"transform":[{"filter":"datum.p=='E'"}],"mark":{"type":"text","fontSize":6.5,"baseline":"middle"},"encoding":{"x":{"field":"lx","type":"quantitative","scale":{"domain":[-5.84,17.39],"nice":false,"zero":false},"axis":null},"y":{"field":"py","type":"quantitative","scale":{"domain":[-14.7,1.075],"nice":false,"zero":false},"axis":null},"text":{"field":"pct","type":"nominal"}}},
{"data":{"name":"ins"},"transform":[{"filter":"datum.p=='E'"}],"mark":{"type":"text","text":"Density","angle":270,"baseline":"bottom","dy":-4,"fontSize":6,"fontWeight":"bold"},"encoding":{"x":{"field":"lo","type":"quantitative","scale":{"domain":[-5.84,17.39],"nice":false,"zero":false},"axis":null},"y":{"field":"dl","type":"quantitative","scale":{"domain":[-14.7,1.075],"nice":false,"zero":false},"axis":null}}}
]},
{"width":141,"height":210,"title":{"text":"F"},"resolve":{"scale":{"x":"independent","y":"independent"}},
"layer":[
{"data":{"name":"box"},"transform":[{"filter":"datum.p=='F'"}],"mark":{"type":"rule","color":"#333333","strokeWidth":1},"encoding":{"x":{"field":"g","type":"nominal","scale":{"type":"band","domain":["TT","C–"],"paddingInner":0.25,"paddingOuter":0.225},"axis":{"title":"Pig genotype","orient":"bottom"}},"y":{"field":"lo","type":"quantitative","scale":{"domain":[251.8,434.9],"nice":false,"zero":false},"axis":{"title":"Total feed intake, kg","values":[300,350,400],"orient":"left"}},"y2":{"field":"hi"}}},
{"data":{"name":"box"},"transform":[{"filter":"datum.p=='F'"}],"mark":{"type":"bar","stroke":"#333333","strokeWidth":1},"encoding":{"x":{"field":"g","type":"nominal","scale":{"type":"band","domain":["TT","C–"],"paddingInner":0.25,"paddingOuter":0.225},"axis":null},"y":{"field":"q1","type":"quantitative","scale":{"domain":[251.8,434.9],"nice":false,"zero":false},"axis":null},"y2":{"field":"q3"},"color":{"field":"g","type":"nominal","scale":{"domain":["TT","C–"],"range":["#F8766D","#00BFC4"]},"legend":null}}},
{"data":{"name":"box"},"transform":[{"filter":"datum.p=='F'"}],"mark":{"type":"tick","color":"#333333","thickness":2},"encoding":{"x":{"field":"g","type":"nominal","scale":{"type":"band","domain":["TT","C–"],"paddingInner":0.25,"paddingOuter":0.225},"axis":null},"y":{"field":"med","type":"quantitative","scale":{"domain":[251.8,434.9],"nice":false,"zero":false},"axis":null}}},
{"data":{"name":"box"},"transform":[{"filter":"datum.p=='F'"}],"mark":{"type":"text","text":"n","fontStyle":"italic","align":"right","dx":-6.4,"fontSize":7.5},"encoding":{"x":{"field":"g","type":"nominal","scale":{"type":"band","domain":["TT","C–"],"paddingInner":0.25,"paddingOuter":0.225},"axis":null},"y":{"field":"ny","type":"quantitative","scale":{"domain":[251.8,434.9],"nice":false,"zero":false},"axis":null}}},
{"data":{"name":"box"},"transform":[{"filter":"datum.p=='F'"}],"mark":{"type":"text","align":"left","dx":-4.3,"fontSize":7.5},"encoding":{"x":{"field":"g","type":"nominal","scale":{"type":"band","domain":["TT","C–"],"paddingInner":0.25,"paddingOuter":0.225},"axis":null},"y":{"field":"ny","type":"quantitative","scale":{"domain":[251.8,434.9],"nice":false,"zero":false},"axis":null},"text":{"field":"nt","type":"nominal"}}},
{"data":{"name":"dens"},"transform":[{"filter":"datum.p=='F'"}],"mark":{"type":"line","color":"#000000","strokeWidth":1,"interpolate":"monotone"},"encoding":{"x":{"field":"x","type":"quantitative","scale":{"domain":[-59.76,83.08],"nice":false,"zero":false},"axis":{"orient":"bottom","offset":-195,"values":[-25,0,25,50,75],"format":"d","title":"TT vs C–, kg","domain":false,"labelFontSize":6,"titleFontSize":6.5,"tickSize":2,"labelPadding":1,"titlePadding":1}},"y":{"field":"d","type":"quantitative","scale":{"domain":[-13.93,1.07],"nice":false,"zero":false},"axis":{"orient":"left","offset":-12.3,"values":[0,0.5,1],"labels":false,"domain":false,"title":null,"tickSize":2}}}},
{"data":{"name":"ins"},"transform":[{"filter":"datum.p=='F'"}],"mark":{"type":"rule","color":"#000000","strokeWidth":1.2},"encoding":{"x":{"field":"lo","type":"quantitative","scale":{"domain":[-59.76,83.08],"nice":false,"zero":false},"axis":null},"x2":{"field":"hi"},"y":{"field":"z","type":"quantitative","scale":{"domain":[-13.93,1.07],"nice":false,"zero":false},"axis":null}}},
{"data":{"name":"ins"},"transform":[{"filter":"datum.p=='F'"}],"mark":{"type":"rule","color":"#333333","strokeWidth":1},"encoding":{"x":{"field":"lo","type":"quantitative","scale":{"domain":[-59.76,83.08],"nice":false,"zero":false},"axis":null},"y":{"field":"z","type":"quantitative","scale":{"domain":[-13.93,1.07],"nice":false,"zero":false},"axis":null},"y2":{"field":"at"}}},
{"data":{"name":"ins"},"transform":[{"filter":"datum.p=='F'"}],"mark":{"type":"rule","color":"#0000FF","strokeWidth":1.5,"strokeDash":[5,3]},"encoding":{"x":{"field":"zx","type":"quantitative","scale":{"domain":[-59.76,83.08],"nice":false,"zero":false},"axis":null},"y":{"field":"z","type":"quantitative","scale":{"domain":[-13.93,1.07],"nice":false,"zero":false},"axis":null},"y2":{"field":"vt"}}},
{"data":{"name":"ins"},"transform":[{"filter":"datum.p=='F'"}],"mark":{"type":"text","fontSize":6.5,"baseline":"middle"},"encoding":{"x":{"field":"lx","type":"quantitative","scale":{"domain":[-59.76,83.08],"nice":false,"zero":false},"axis":null},"y":{"field":"py","type":"quantitative","scale":{"domain":[-13.93,1.07],"nice":false,"zero":false},"axis":null},"text":{"field":"pct","type":"nominal"}}},
{"data":{"name":"ins"},"transform":[{"filter":"datum.p=='F'"}],"mark":{"type":"text","text":"Density","angle":270,"baseline":"bottom","dy":-4,"fontSize":6,"fontWeight":"bold"},"encoding":{"x":{"field":"lo","type":"quantitative","scale":{"domain":[-59.76,83.08],"nice":false,"zero":false},"axis":null},"y":{"field":"dl","type":"quantitative","scale":{"domain":[-13.93,1.07],"nice":false,"zero":false},"axis":null}}}
]},
{"width":142,"height":210,"title":{"text":"G"},"resolve":{"scale":{"x":"independent","y":"independent"}},
"layer":[
{"data":{"name":"box"},"transform":[{"filter":"datum.p=='G'"}],"mark":{"type":"rule","color":"#333333","strokeWidth":1},"encoding":{"x":{"field":"g","type":"nominal","scale":{"type":"band","domain":["TT","C–"],"paddingInner":0.25,"paddingOuter":0.225},"axis":{"title":"Pig genotype","orient":"bottom"}},"y":{"field":"lo","type":"quantitative","scale":{"domain":[54.5,922],"nice":false,"zero":false},"axis":{"title":"Circulating triglycerdies, μg/ml","values":[250,500,750],"orient":"left"}},"y2":{"field":"hi"}}},
{"data":{"name":"box"},"transform":[{"filter":"datum.p=='G'"}],"mark":{"type":"bar","stroke":"#333333","strokeWidth":1},"encoding":{"x":{"field":"g","type":"nominal","scale":{"type":"band","domain":["TT","C–"],"paddingInner":0.25,"paddingOuter":0.225},"axis":null},"y":{"field":"q1","type":"quantitative","scale":{"domain":[54.5,922],"nice":false,"zero":false},"axis":null},"y2":{"field":"q3"},"color":{"field":"g","type":"nominal","scale":{"domain":["TT","C–"],"range":["#F8766D","#00BFC4"]},"legend":null}}},
{"data":{"name":"box"},"transform":[{"filter":"datum.p=='G'"}],"mark":{"type":"tick","color":"#333333","thickness":2},"encoding":{"x":{"field":"g","type":"nominal","scale":{"type":"band","domain":["TT","C–"],"paddingInner":0.25,"paddingOuter":0.225},"axis":null},"y":{"field":"med","type":"quantitative","scale":{"domain":[54.5,922],"nice":false,"zero":false},"axis":null}}},
{"data":{"name":"box"},"transform":[{"filter":"datum.p=='G' && datum.g=='TT'"}],"mark":{"type":"text","text":"n","fontStyle":"italic","align":"right","dx":-6.4,"fontSize":7.5},"encoding":{"x":{"field":"g","type":"nominal","scale":{"type":"band","domain":["TT","C–"],"paddingInner":0.25,"paddingOuter":0.225},"axis":null},"y":{"field":"ny","type":"quantitative","scale":{"domain":[54.5,922],"nice":false,"zero":false},"axis":null}}},
{"data":{"name":"box"},"transform":[{"filter":"datum.p=='G' && datum.g=='TT'"}],"mark":{"type":"text","align":"left","dx":-4.3,"fontSize":7.5},"encoding":{"x":{"field":"g","type":"nominal","scale":{"type":"band","domain":["TT","C–"],"paddingInner":0.25,"paddingOuter":0.225},"axis":null},"y":{"field":"ny","type":"quantitative","scale":{"domain":[54.5,922],"nice":false,"zero":false},"axis":null},"text":{"field":"nt","type":"nominal"}}},
{"data":{"name":"box"},"transform":[{"filter":"datum.p=='G' && datum.g!='TT'"}],"mark":{"type":"text","text":"n","fontStyle":"italic","align":"right","dx":18.6,"fontSize":7.5},"encoding":{"x":{"field":"g","type":"nominal","scale":{"type":"band","domain":["TT","C–"],"paddingInner":0.25,"paddingOuter":0.225},"axis":null},"y":{"field":"ny","type":"quantitative","scale":{"domain":[54.5,922],"nice":false,"zero":false},"axis":null}}},
{"data":{"name":"box"},"transform":[{"filter":"datum.p=='G' && datum.g!='TT'"}],"mark":{"type":"text","align":"left","dx":20.7,"fontSize":7.5},"encoding":{"x":{"field":"g","type":"nominal","scale":{"type":"band","domain":["TT","C–"],"paddingInner":0.25,"paddingOuter":0.225},"axis":null},"y":{"field":"ny","type":"quantitative","scale":{"domain":[54.5,922],"nice":false,"zero":false},"axis":null},"text":{"field":"nt","type":"nominal"}}},
{"data":{"name":"dens"},"transform":[{"filter":"datum.p=='G'"}],"mark":{"type":"line","color":"#000000","strokeWidth":1,"interpolate":"monotone"},"encoding":{"x":{"field":"x","type":"quantitative","scale":{"domain":[-90.6,193.4],"nice":false,"zero":false},"axis":{"orient":"bottom","offset":-191.7,"values":[-50,0,50,100,150],"format":"d","title":"TT vs C–, μg/ml","domain":false,"labelFontSize":6,"titleFontSize":6.5,"tickSize":2,"labelPadding":1,"titlePadding":1}},"y":{"field":"d","type":"quantitative","scale":{"domain":[-11.08,1.058],"nice":false,"zero":false},"axis":{"orient":"left","offset":-13.7,"values":[0,0.5,1],"labels":false,"domain":false,"title":null,"tickSize":2}}}},
{"data":{"name":"ins"},"transform":[{"filter":"datum.p=='G'"}],"mark":{"type":"rule","color":"#000000","strokeWidth":1.2},"encoding":{"x":{"field":"lo","type":"quantitative","scale":{"domain":[-90.6,193.4],"nice":false,"zero":false},"axis":null},"x2":{"field":"hi"},"y":{"field":"z","type":"quantitative","scale":{"domain":[-11.08,1.058],"nice":false,"zero":false},"axis":null}}},
{"data":{"name":"ins"},"transform":[{"filter":"datum.p=='G'"}],"mark":{"type":"rule","color":"#333333","strokeWidth":1},"encoding":{"x":{"field":"lo","type":"quantitative","scale":{"domain":[-90.6,193.4],"nice":false,"zero":false},"axis":null},"y":{"field":"z","type":"quantitative","scale":{"domain":[-11.08,1.058],"nice":false,"zero":false},"axis":null},"y2":{"field":"at"}}},
{"data":{"name":"ins"},"transform":[{"filter":"datum.p=='G'"}],"mark":{"type":"rule","color":"#0000FF","strokeWidth":1.5,"strokeDash":[5,3]},"encoding":{"x":{"field":"zx","type":"quantitative","scale":{"domain":[-90.6,193.4],"nice":false,"zero":false},"axis":null},"y":{"field":"z","type":"quantitative","scale":{"domain":[-11.08,1.058],"nice":false,"zero":false},"axis":null},"y2":{"field":"vt"}}},
{"data":{"name":"ins"},"transform":[{"filter":"datum.p=='G'"}],"mark":{"type":"text","fontSize":6.5,"baseline":"middle"},"encoding":{"x":{"field":"lx","type":"quantitative","scale":{"domain":[-90.6,193.4],"nice":false,"zero":false},"axis":null},"y":{"field":"py","type":"quantitative","scale":{"domain":[-11.08,1.058],"nice":false,"zero":false},"axis":null},"text":{"field":"pct","type":"nominal"}}},
{"data":{"name":"ins"},"transform":[{"filter":"datum.p=='G'"}],"mark":{"type":"text","text":"Density","angle":270,"baseline":"bottom","dy":-4,"fontSize":6,"fontWeight":"bold"},"encoding":{"x":{"field":"lo","type":"quantitative","scale":{"domain":[-90.6,193.4],"nice":false,"zero":false},"axis":null},"y":{"field":"dl","type":"quantitative","scale":{"domain":[-11.08,1.058],"nice":false,"zero":false},"axis":null}}}
]},
{"width":138,"height":210,"title":{"text":"H"},"resolve":{"scale":{"x":"independent","y":"independent"}},
"layer":[
{"data":{"name":"box"},"transform":[{"filter":"datum.p=='H'"}],"mark":{"type":"rule","color":"#333333","strokeWidth":1},"encoding":{"x":{"field":"g","type":"nominal","scale":{"type":"band","domain":["TT","C–"],"paddingInner":0.25,"paddingOuter":0.225},"axis":{"title":"Pig genotype","orient":"bottom"}},"y":{"field":"lo","type":"quantitative","scale":{"domain":[3.3,388.6],"nice":false,"zero":false},"axis":{"title":"Circulating free fatty acids, μg/ml","values":[100,200,300],"orient":"left"}},"y2":{"field":"hi"}}},
{"data":{"name":"box"},"transform":[{"filter":"datum.p=='H'"}],"mark":{"type":"bar","stroke":"#333333","strokeWidth":1},"encoding":{"x":{"field":"g","type":"nominal","scale":{"type":"band","domain":["TT","C–"],"paddingInner":0.25,"paddingOuter":0.225},"axis":null},"y":{"field":"q1","type":"quantitative","scale":{"domain":[3.3,388.6],"nice":false,"zero":false},"axis":null},"y2":{"field":"q3"},"color":{"field":"g","type":"nominal","scale":{"domain":["TT","C–"],"range":["#F8766D","#00BFC4"]},"legend":null}}},
{"data":{"name":"box"},"transform":[{"filter":"datum.p=='H'"}],"mark":{"type":"tick","color":"#333333","thickness":2},"encoding":{"x":{"field":"g","type":"nominal","scale":{"type":"band","domain":["TT","C–"],"paddingInner":0.25,"paddingOuter":0.225},"axis":null},"y":{"field":"med","type":"quantitative","scale":{"domain":[3.3,388.6],"nice":false,"zero":false},"axis":null}}},
{"data":{"name":"box"},"transform":[{"filter":"datum.p=='H'"}],"mark":{"type":"text","text":"n","fontStyle":"italic","align":"right","dx":-7.5,"fontSize":7.5},"encoding":{"x":{"field":"g","type":"nominal","scale":{"type":"band","domain":["TT","C–"],"paddingInner":0.25,"paddingOuter":0.225},"axis":null},"y":{"field":"ny","type":"quantitative","scale":{"domain":[3.3,388.6],"nice":false,"zero":false},"axis":null}}},
{"data":{"name":"box"},"transform":[{"filter":"datum.p=='H'"}],"mark":{"type":"text","align":"left","dx":-5.4,"fontSize":7.5},"encoding":{"x":{"field":"g","type":"nominal","scale":{"type":"band","domain":["TT","C–"],"paddingInner":0.25,"paddingOuter":0.225},"axis":null},"y":{"field":"ny","type":"quantitative","scale":{"domain":[3.3,388.6],"nice":false,"zero":false},"axis":null},"text":{"field":"nt","type":"nominal"}}},
{"data":{"name":"out"},"transform":[{"filter":"datum.p=='H'"}],"mark":{"type":"circle","size":14,"color":"#333333","opacity":1},"encoding":{"x":{"field":"g","type":"nominal","scale":{"type":"band","domain":["TT","C–"],"paddingInner":0.25,"paddingOuter":0.225},"axis":null},"y":{"field":"v","type":"quantitative","scale":{"domain":[3.3,388.6],"nice":false,"zero":false},"axis":null}}},
{"data":{"name":"dens"},"transform":[{"filter":"datum.p=='H'"}],"mark":{"type":"line","color":"#000000","strokeWidth":1,"interpolate":"monotone"},"encoding":{"x":{"field":"x","type":"quantitative","scale":{"domain":[-108.67,9.43],"nice":false,"zero":false},"axis":{"orient":"bottom","offset":-190.7,"values":[-75,-50,-25,0],"format":"d","title":"TT vs C–, μg/ml","domain":false,"labelFontSize":6,"titleFontSize":6.5,"tickSize":2,"labelPadding":1,"titlePadding":1}},"y":{"field":"d","type":"quantitative","scale":{"domain":[-10.25,1.04],"nice":false,"zero":false},"axis":{"orient":"left","offset":-12,"values":[0,0.5,1],"labels":false,"domain":false,"title":null,"tickSize":2}}}},
{"data":{"name":"ins"},"transform":[{"filter":"datum.p=='H'"}],"mark":{"type":"rule","color":"#000000","strokeWidth":1.2},"encoding":{"x":{"field":"lo","type":"quantitative","scale":{"domain":[-108.67,9.43],"nice":false,"zero":false},"axis":null},"x2":{"field":"hi"},"y":{"field":"z","type":"quantitative","scale":{"domain":[-10.25,1.04],"nice":false,"zero":false},"axis":null}}},
{"data":{"name":"ins"},"transform":[{"filter":"datum.p=='H'"}],"mark":{"type":"rule","color":"#333333","strokeWidth":1},"encoding":{"x":{"field":"lo","type":"quantitative","scale":{"domain":[-108.67,9.43],"nice":false,"zero":false},"axis":null},"y":{"field":"z","type":"quantitative","scale":{"domain":[-10.25,1.04],"nice":false,"zero":false},"axis":null},"y2":{"field":"at"}}},
{"data":{"name":"ins"},"transform":[{"filter":"datum.p=='H'"}],"mark":{"type":"rule","color":"#0000FF","strokeWidth":1.5,"strokeDash":[5,3]},"encoding":{"x":{"field":"zx","type":"quantitative","scale":{"domain":[-108.67,9.43],"nice":false,"zero":false},"axis":null},"y":{"field":"z","type":"quantitative","scale":{"domain":[-10.25,1.04],"nice":false,"zero":false},"axis":null},"y2":{"field":"vt"}}},
{"data":{"name":"ins"},"transform":[{"filter":"datum.p=='H'"}],"mark":{"type":"text","fontSize":6.5,"baseline":"middle"},"encoding":{"x":{"field":"lx","type":"quantitative","scale":{"domain":[-108.67,9.43],"nice":false,"zero":false},"axis":null},"y":{"field":"py","type":"quantitative","scale":{"domain":[-10.25,1.04],"nice":false,"zero":false},"axis":null},"text":{"field":"pct","type":"nominal"}}},
{"data":{"name":"ins"},"transform":[{"filter":"datum.p=='H'"}],"mark":{"type":"text","text":"Density","angle":270,"baseline":"bottom","dy":-4,"fontSize":6,"fontWeight":"bold"},"encoding":{"x":{"field":"lo","type":"quantitative","scale":{"domain":[-108.67,9.43],"nice":false,"zero":false},"axis":null},"y":{"field":"dl","type":"quantitative","scale":{"domain":[-10.25,1.04],"nice":false,"zero":false},"axis":null}}}
]}
],
"config":{
"font":"Liberation Sans",
"view":{"stroke":null},
"axis":{"grid":false,"domainColor":"#333333","domainWidth":1,"tickColor":"#333333","tickWidth":1,"tickSize":2.5,"labelColor":"#4D4D4D","labelFontSize":7,"labelPadding":1,"titleFontSize":8.5,"titleFontWeight":"bold","titleColor":"#000000","titlePadding":2},
"axisX":{"labelAngle":0,"titlePadding":1,"labelPadding":0.5},
"axisY":{"titlePadding":2},
"title":{"anchor":"start","frame":"bounds","fontSize":11,"fontWeight":"bold","color":"#000000","offset":0,"dy":13},
"text":{"color":"#000000"}
}
}
